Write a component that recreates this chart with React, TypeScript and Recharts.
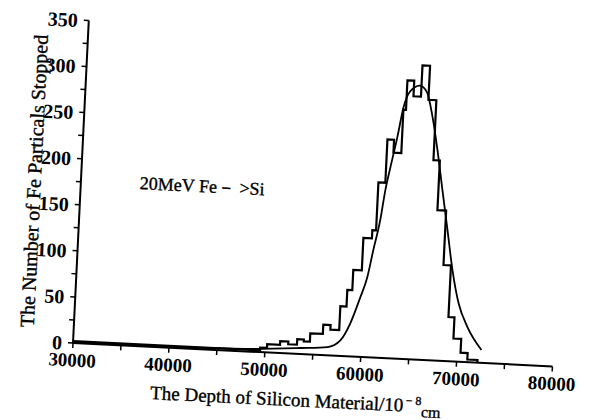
import { LineChart, Line, XAxis, YAxis } from "recharts";

// histogram of stopped particles (left bin edge -> count)
const histDepth = [
  30000, 40000, 49500, 50210, 51550, 52400, 53310, 54000, 54640, 55950, 56710, 57630, 58270, 58790,
  59680, 60570, 60960, 61680, 62370, 63190, 63460, 64170, 64950, 65740, 66570, 67240, 68150,
  68930, 69560, 70370, 71110, 72170,
];
const histCount = [
  2, 2, 5, 9, 13, 10, 16, 14, 23, 33, 28, 54, 72, 94,
  129, 138, 190, 237, 223, 270, 302, 285, 319, 282, 217, 163, 104,
  48, 25, 10, 3, 0,
];

// fitted distribution curve
const fitDepth = [
  30000, 40000, 45000, 48470, 53670, 56480, 57800, 58750, 59670, 60290, 60780, 61350, 61720,
  62130, 62700, 63180, 63790, 64790, 65560, 66250, 66940, 67660, 68390, 69110, 69900, 70960, 72530,
];
const fitCount = [
  1, 1, 2, 3, 6.6, 9, 17, 36, 65, 87, 117, 150, 182,
  207, 240, 272, 290, 297, 290, 264, 228, 185, 142, 99, 64, 38, 14,
];

const xTicks = [30000, 35000, 40000, 45000, 50000, 55000, 60000, 65000, 70000, 75000, 80000];
const yTicks = [0, 25, 50, 75, 100, 125, 150, 175, 200, 225, 250, 275, 300, 325, 350];

const histData = histDepth.map((d, i) => ({ depth: d, count: histCount[i] }));
const fitData = fitDepth.map((d, i) => ({ depth: d, count: fitCount[i] }));

const serif = '"Liberation Serif", "Times New Roman", serif';
const tilt = 2.8; // the scanned figure sits slightly rotated

export default function App() {
  return (
    <div style={{ position: "absolute", left: 0, top: 0, width: 611, height: 420, overflow: "hidden", background: "#fff" }}>
      <div
        style={{
          position: "absolute",
          left: 0,
          top: 0,
          width: 611,
          height: 420,
          transform: `rotate(${tilt}deg)`,
          transformOrigin: "73px 343px",
          fontFamily: serif,
          color: "#000",
        }}
      >
        <LineChart width={611} height={420} margin={{ top: 20, right: 58, bottom: 47, left: 13 }}>
          <XAxis
            dataKey="depth"
            type="number"
            domain={[30000, 80000]}
            ticks={xTicks}
            allowDataOverflow
            height={30}
            tickFormatter={(v: number) => (v % 10000 === 0 ? String(v) : "")}
            tick={{ fontSize: 19, fill: "#000", fontFamily: serif, fontWeight: 700 }}
            axisLine={{ stroke: "#000", strokeWidth: 2 }}
            tickLine={{ stroke: "#000", strokeWidth: 1.5 }}
            tickSize={5}
            tickMargin={5}
          />
          <YAxis
            type="number"
            domain={[0, 350]}
            ticks={yTicks}
            allowDataOverflow
            width={60}
            tickFormatter={(v: number) => (v % 50 === 0 ? String(v) : "")}
            tick={{ fontSize: 20, fill: "#000", fontFamily: serif, fontWeight: 700 }}
            axisLine={{ stroke: "#000", strokeWidth: 2 }}
            tickLine={{ stroke: "#000", strokeWidth: 1.5 }}
            tickSize={5}
            tickMargin={6}
          />
          <Line
            data={histData}
            dataKey="count"
            type="stepAfter"
            stroke="#000"
            strokeWidth={2.2}
            dot={false}
            isAnimationActive={false}
          />
          <Line
            data={fitData}
            dataKey="count"
            type="monotone"
            stroke="#000"
            strokeWidth={1.8}
            dot={false}
            isAnimationActive={false}
          />
        </LineChart>
        <svg
          width={611}
          height={420}
          style={{ position: "absolute", left: 0, top: 0, pointerEvents: "none" }}
        >
          <text
            x={26}
            y={183}
            transform="rotate(-90 26 183)"
            textAnchor="middle"
            dominantBaseline="central"
            fontFamily={serif}
            fontSize={20}
            fill="#000"
            stroke="#000"
            strokeWidth={0.35}
          >
            The Number of Fe Particals Stopped
          </text>
          <text
            x={132}
            y={180}
            dominantBaseline="central"
            fontFamily={serif}
            fontSize={18}
            fill="#000"
            stroke="#000"
            strokeWidth={0.35}
          >
            20MeV Fe－ &gt;Si
          </text>
        </svg>
        <div
          style={{
            position: "absolute",
            left: 298,
            top: 390,
            transform: "translate(-50%, -50%)",
            whiteSpace: "nowrap",
            fontSize: 19,
            WebkitTextStroke: "0.35px #000",
          }}
        >
          The Depth of Silicon Material/10<sup style={{ fontSize: 12 }}>－8</sup>
          <sub style={{ fontSize: 16 }}>cm</sub>
        </div>
      </div>
    </div>
  );
}
